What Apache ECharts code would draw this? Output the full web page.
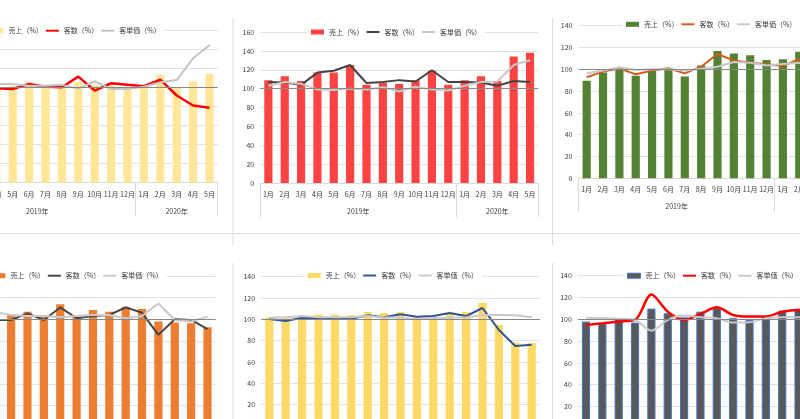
<!DOCTYPE html>
<html><head><meta charset="utf-8">
<script src="https://cdn.jsdelivr.net/npm/echarts@6/dist/echarts.min.js"></script>
<style>
html,body{margin:0;padding:0;overflow:hidden;background:#fff;width:800px;height:419px}
#c{position:absolute;left:-100px;top:0;width:1000px;height:419px}
</style>
</head><body><div id="c"></div>
<script>
// ---------- data ----------
const months = ['1月','2月','3月','4月','5月','6月','7月','8月','9月','10月','11月','12月','1月','2月','3月','4月','5月'];
const years = ['2019年','2020年'];
const yearMonthCounts = [12, 5];
const seriesNames = ['売上（%）','客数（%）','客単価（%）'];
const referenceLevel = 100;

const sales1 = [102, 103, 101, 100, 102, 105.7, 102, 103, 106, 103, 102, 99, 102, 113.7, 100, 106.4, 114.8];
const cust1  = [100, 101, 99, 99.5, 98.7, 104, 101, 100.5, 111.7, 97, 104.7, 103, 101.5, 108.5, 91.8, 81.3, 78.9];
const price1 = [102, 102, 103, 104, 104, 102, 102, 103, 99, 106.8, 98.7, 98.7, 101, 105.7, 108, 131, 145];

const sales2 = [109, 113, 108, 117, 117, 125, 104, 106, 105, 109, 119, 104, 109, 113, 108, 134, 138];
const cust2  = [107, 106.5, 104, 117, 119, 125, 106, 107, 109, 107.5, 119.5, 107, 107, 106.5, 103, 108, 107];
const price2 = [103, 107, 105, 99, 98.5, 100, 99, 101.5, 97, 102, 99, 98, 103, 107, 107.5, 125, 130];

const sales3 = [89.6, 97, 101, 94, 98.8, 100, 93.3, 103.4, 116.8, 114.4, 113, 108.6, 109.2, 116.2, 105, 95, 100];
const cust3  = [92.7, 97.9, 101, 95.4, 98.8, 101, 96.3, 102.4, 114, 108, 106, 104.6, 103, 109.2, 100, 90, 95];
const price3 = [96.3, 98.8, 101.8, 99.4, 100, 100, 98.8, 100.6, 102.4, 106.7, 106, 103.4, 104.9, 106, 105, 106, 105];

const sales4 = [103, 101, 105, 102, 104.6, 107, 102.5, 114, 103, 108.6, 107, 111.6, 109.5, 97.9, 97, 96.3, 92.6];
const cust4  = [101, 103, 100, 99.4, 99.4, 105.5, 99.4, 111, 101, 103, 104, 111, 106, 85.6, 100, 99.4, 91];
const price4 = [103, 101, 104, 106.7, 104, 103, 103, 102, 103, 104, 104, 101, 103, 114.7, 99.4, 97.9, 102.5];

const sales5 = [101.9, 101, 102, 104.4, 104.4, 103.7, 106.8, 106, 106.8, 102, 101.5, 105.6, 106.8, 115.5, 94.7, 78.2, 77.6];
const cust5  = [100.3, 98.4, 101.5, 101, 101, 100.6, 103.7, 101.9, 104.7, 102.5, 103, 105.9, 103, 110.6, 90, 75, 76];
const price5 = [101.5, 102, 103, 102, 102, 102, 103, 102, 101.5, 100, 101, 101.5, 102, 104, 104, 103.7, 102];

const sales6 = [97.9, 96.3, 100, 97, 109.8, 105.5, 101.8, 107, 110.7, 101, 99.4, 103, 108, 109.8, 100, 95, 98];
const cust6  = [94.8, 96.3, 97.9, 99.4, 122.7, 107, 99.4, 104.9, 111, 104, 102.5, 102.5, 107, 108.6, 100, 90, 95];
const price6 = [101.5, 101, 100.6, 99.4, 89.6, 99.4, 103.4, 101.8, 101, 97, 97.2, 101, 101.8, 101.8, 101, 102, 101];

const yMaxes = [160, 160, 140, 140, 140, 140];
const yStep = 20;

// ---------- layout / style ----------
const OX = 100; // container offset
const FONT = 'Noto Sans CJK JP';
const TXT = '#3c3c3c';
const panels = [
  {s: sales1, c: cust1, p: price1, col: ['#FFE699','#FF0000','#C4C4C4'], g: [-61.1, 30.7, 278.8, 152], lg: [-9.6, 30.7], w: [2.5, 2], smooth: false},
  {s: sales2, c: cust2, p: price2, col: ['#FF4343','#444444','#C9C9C9'], g: [260.2, 32, 278, 151], lg: [311, 32], w: [2, 2], smooth: false},
  {s: sales3, c: cust3, p: price3, col: ['#548235','#D35B1C','#C9C9C9'], g: [578.5, 25.7, 278, 152.6], lg: [626, 24.3], w: [2, 2], smooth: false},
  {s: sales4, c: cust4, p: price4, col: ['#ED7D31','#444444','#C9C9C9'], g: [-62.5, 276.1, 278.2, 151.2], lg: [-7.6, 275.7], w: [2, 2], smooth: false},
  {s: sales5, c: cust5, p: price5, col: ['#FFD966','#2F5597','#C9C9C9'], g: [261.1, 276.7, 278.8, 149.1], lg: [307.7, 275.5], w: [2, 2], smooth: false},
  {s: sales6, c: cust6, p: price6, col: ['#595959','#FF0000','#C9C9C9'], g: [577.8, 275.7, 278, 152.6], lg: [627, 275.7], w: [2.5, 2], smooth: 0.3, border: '#4472C4'}
];

// year group bounds and centres from counts
const yearBounds = [0];
yearMonthCounts.forEach(n => yearBounds.push(yearBounds[yearBounds.length - 1] + n));
const yearCenters = yearMonthCounts.map((n, i) => yearBounds[i] + n / 2);

const grid = [], xAxis = [], yAxis = [], series = [], legend = [];
panels.forEach((P, i) => {
  grid.push({left: P.g[0] + OX, top: P.g[1], width: P.g[2], height: P.g[3], containLabel: false, outerBoundsMode: 'none'});
  xAxis.push({
    type: 'category', gridIndex: i, position: 'bottom', data: months,
    axisLine: {show: true, lineStyle: {color: '#d9d9d9', width: 1}},
    axisTick: {show: false},
    axisLabel: {interval: 0, margin: 8, fontSize: 7, color: TXT, fontFamily: FONT}
  });
  xAxis.push({
    type: 'value', gridIndex: i, position: 'bottom', min: 0, max: months.length,
    axisLine: {show: false}, splitLine: {show: false},
    axisTick: {show: true, length: 34, customValues: yearBounds, lineStyle: {color: '#d9d9d9', width: 1}},
    axisLabel: {show: true, customValues: yearCenters, margin: 25, fontSize: 7, color: TXT, fontFamily: FONT,
      formatter: v => { const k = yearCenters.indexOf(v); return k >= 0 ? years[k] : ''; }}
  });
  yAxis.push({
    type: 'value', gridIndex: i, min: 0, max: yMaxes[i], interval: yStep,
    axisLine: {show: false}, axisTick: {show: false},
    axisLabel: {margin: 6, fontSize: 7, color: TXT, fontFamily: FONT},
    splitLine: {lineStyle: {color: '#e2e2e2', width: 1}}
  });
  series.push({
    name: seriesNames[0], type: 'bar', xAxisIndex: 2 * i, yAxisIndex: i, data: P.s, barWidth: '50%',
    itemStyle: {color: P.col[0], borderColor: P.border || P.col[0], borderWidth: P.border ? 1 : 0},
    markLine: {silent: true, symbol: 'none', label: {show: false},
      lineStyle: {color: '#888888', width: 1, type: 'solid'}, data: [{yAxis: referenceLevel}]},
    animation: false
  });
  series.push({
    name: seriesNames[1], type: 'line', xAxisIndex: 2 * i, yAxisIndex: i, data: P.c,
    symbol: 'none', showSymbol: false, smooth: P.smooth,
    lineStyle: {color: P.col[1], width: P.w[0]}, itemStyle: {color: P.col[1]}, animation: false
  });
  series.push({
    name: seriesNames[2], type: 'line', xAxisIndex: 2 * i, yAxisIndex: i, data: P.p,
    symbol: 'none', showSymbol: false, smooth: P.smooth,
    lineStyle: {color: P.col[2], width: P.w[1]}, itemStyle: {color: P.col[2]}, animation: false
  });
  const linePath = 'path://M0,0H16V2.4H0Z';
  legend.push({
    left: P.lg[0] - 4 + OX, top: P.lg[1] - 6.5, orient: 'horizontal',
    padding: [2, 4, 2, 4], itemGap: 3, itemWidth: 13, itemHeight: 5,
    backgroundColor: '#ffffff', selectedMode: false,
    textStyle: {fontSize: 7, lineHeight: 9, color: TXT, fontFamily: FONT},
    data: [
      {name: seriesNames[0], icon: 'rect', itemStyle: {color: P.col[0], borderColor: P.border || P.col[0], borderWidth: P.border ? 1 : 0}},
      {name: seriesNames[1], icon: linePath, itemStyle: {color: P.col[1], borderColor: P.col[1], borderWidth: 0}},
      {name: seriesNames[2], icon: linePath, itemStyle: {color: P.col[2], borderColor: P.col[2], borderWidth: 0}}
    ]
  });
});

// panel frame lines (page decoration)
const frameColor = '#dcdcdc';
const graphic = [
  {type: 'line', shape: {x1: OX, y1: 233.5, x2: OX + 800, y2: 233.5}, style: {stroke: frameColor, lineWidth: 1}, silent: true},
  {type: 'line', shape: {x1: OX + 233, y1: 18, x2: OX + 233, y2: 245}, style: {stroke: frameColor, lineWidth: 1}, silent: true},
  {type: 'line', shape: {x1: OX + 233, y1: 263, x2: OX + 233, y2: 419}, style: {stroke: frameColor, lineWidth: 1}, silent: true},
  {type: 'line', shape: {x1: OX + 552.5, y1: 18, x2: OX + 552.5, y2: 245}, style: {stroke: frameColor, lineWidth: 1}, silent: true},
  {type: 'line', shape: {x1: OX + 552.5, y1: 263, x2: OX + 552.5, y2: 419}, style: {stroke: frameColor, lineWidth: 1}, silent: true}
];

const chart = echarts.init(document.getElementById('c'), null, {renderer: 'canvas'});
chart.setOption({
  animation: false,
  backgroundColor: '#ffffff',
  textStyle: {fontFamily: FONT},
  grid, xAxis, yAxis, series, legend, graphic
});
</script>
</body></html>
